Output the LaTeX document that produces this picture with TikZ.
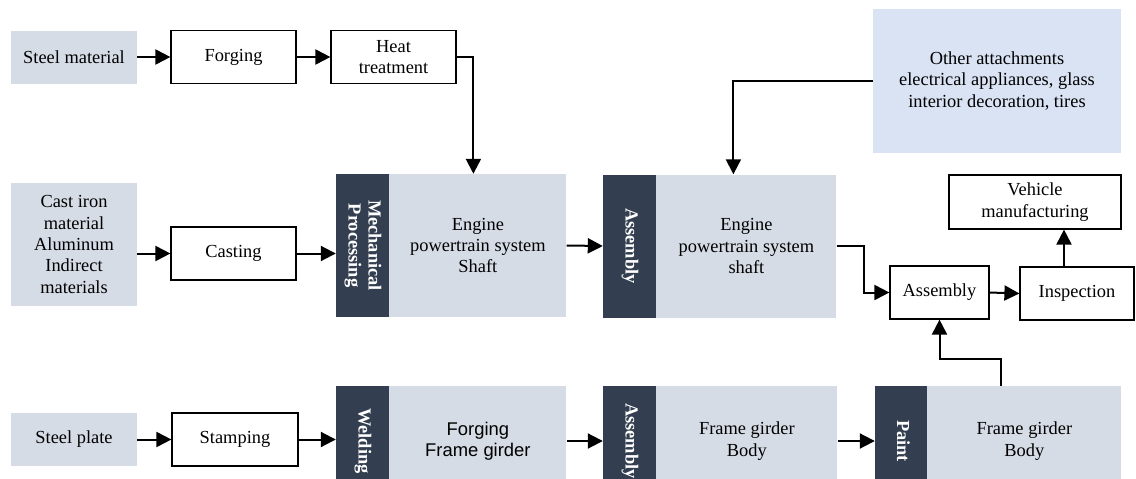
\documentclass[tikz,border=0pt]{standalone}
\usepackage{fontspec}
\usepackage{graphicx}
\setmainfont{Liberation Serif}
\setsansfont{Liberation Sans}
\usetikzlibrary{arrows.meta, positioning}
\definecolor{lg}{HTML}{D6DCE5}
\definecolor{lb}{HTML}{DAE3F3}
\definecolor{dk}{HTML}{333F50}
% vertical label for the dark bands
\newcommand{\vtext}[1]{\rotatebox{-90}{\begin{tabular}{@{}c@{}}#1\end{tabular}}}

\begin{document}
\begin{tikzpicture}[x=1pt, y=-1pt,
		font=\fontsize{18.4}{21.3}\selectfont\rmfamily,
		pbox/.style={draw, line width=1.2pt, minimum height=53pt, align=center, inner sep=2pt},
		src/.style={fill=lg, minimum width=126pt, align=center, inner sep=2pt},
		band/.style={fill=dk, text=white, minimum width=53pt, inner sep=0pt,
			font=\fontsize{18.4}{20}\selectfont\rmfamily\bfseries},
		body/.style={fill=lg, anchor=west, align=center, inner sep=0pt},
		flow/.style={line width=2pt, -{Triangle[length=15pt,width=15pt]}}]
			\useasboundingbox (0,0) rectangle (1136,479);
			\clip (0,0) rectangle (1136,479);

			% Raw materials
			\node[src, minimum height=53pt] (steel) at (74,57) {Steel material};
			\node[src, minimum height=123pt] (cast) at (74,244.5) {Cast iron\\material\\Aluminum\\Indirect\\materials};
			\node[src, minimum height=53pt] (plate) at (74,439.5) {Steel plate};

			% First operations
			\node[pbox, minimum width=125pt] (forging) at (233.5,57) {Forging};
			\node[pbox, minimum width=125pt] (heat) at (393.5,57) {Heat\\treatment};
			\node[pbox, minimum width=125pt] (casting) at (233.5,253.5) {Casting};
			\node[pbox, minimum width=126pt] (stamping) at (235,439.5) {Stamping};

			% Engine line
			\node[band, minimum height=143pt] (mechS) at (362.5,245.5) {\vtext{Mechanical\\Processing}};
			\node[body, minimum width=177pt, minimum height=143pt] (mech) at (mechS.east) {Engine\\powertrain system\\Shaft};
			\node[band, minimum height=143pt] (asm1S) at (629.5,246) {\vtext{Assembly}};
			\node[body, minimum width=180pt, minimum height=143pt] (asm1) at (asm1S.east) {Engine\\powertrain system\\shaft};
			\node[fill=lb, minimum width=248pt, minimum height=144pt, align=center] (other) at (997,81)
				{Other attachments\\electrical appliances, glass\\interior decoration, tires};

			% Final assembly
			\node[pbox, minimum width=99pt] (assy) at (939.5,292.5) {Assembly};
			\node[pbox, minimum width=114pt] (insp) at (1077,293.5) {Inspection};
			\node[pbox, minimum width=172pt, minimum height=54pt] (vehicle) at (1035,202) {Vehicle\\manufacturing};

			% Body line
			\node[band, minimum height=110pt] (weldS) at (362.5,441) {\vtext{Welding}};
			\node[body, minimum width=177pt, minimum height=110pt, font=\fontsize{18.4}{21.3}\selectfont\sffamily] (weld) at (weldS.east) {Forging\\Frame girder};
			\node[band, minimum height=110pt] (asm2S) at (629.5,441) {\vtext{Assembly}};
			\node[body, minimum width=181pt, minimum height=110pt] (asm2) at (asm2S.east) {Frame girder\\Body};
			\node[band, minimum width=52pt, minimum height=110pt] (paintS) at (901,441) {\vtext{Paint}};
			\node[body, minimum width=194pt, minimum height=110pt] (paint) at (paintS.east) {Frame girder\\Body};

			% Connectors
			\draw[flow] (steel.east) -- (forging.west);
			\draw[flow] (forging.east) -- (heat.west);
			\draw[flow] (heat.east) -| ([xshift=-4.5pt]mech.north);
			\draw[flow] (cast.east |- casting.west) -- (casting.west);
			\draw[flow] (casting.east) -- (casting.east -| mechS.west);
			\draw[flow] (mech.east) -- (asm1S.west);
			\draw[flow] (other.west) -| ([xshift=-13pt]asm1.north);
			\draw[flow] (asm1.east) -- ++(27,0) |- (assy.west);
			\draw[flow] (assy.east) -- (insp.west);
			\draw[flow] ([xshift=-13pt]insp.north) -- ([xshift=-13pt]insp.north |- vehicle.south);
			\draw[flow] ([xshift=-23pt]paint.north) -- ++(0,-27) -| (assy.south);
			\draw[flow] (plate.east) -- (stamping.west);
			\draw[flow] (stamping.east) -- (stamping.east -| weldS.west);
			\draw[flow] (weld.east) -- (asm2S.west);
			\draw[flow] (asm2.east) -- (paintS.west);
		\end{tikzpicture}
\end{document}
